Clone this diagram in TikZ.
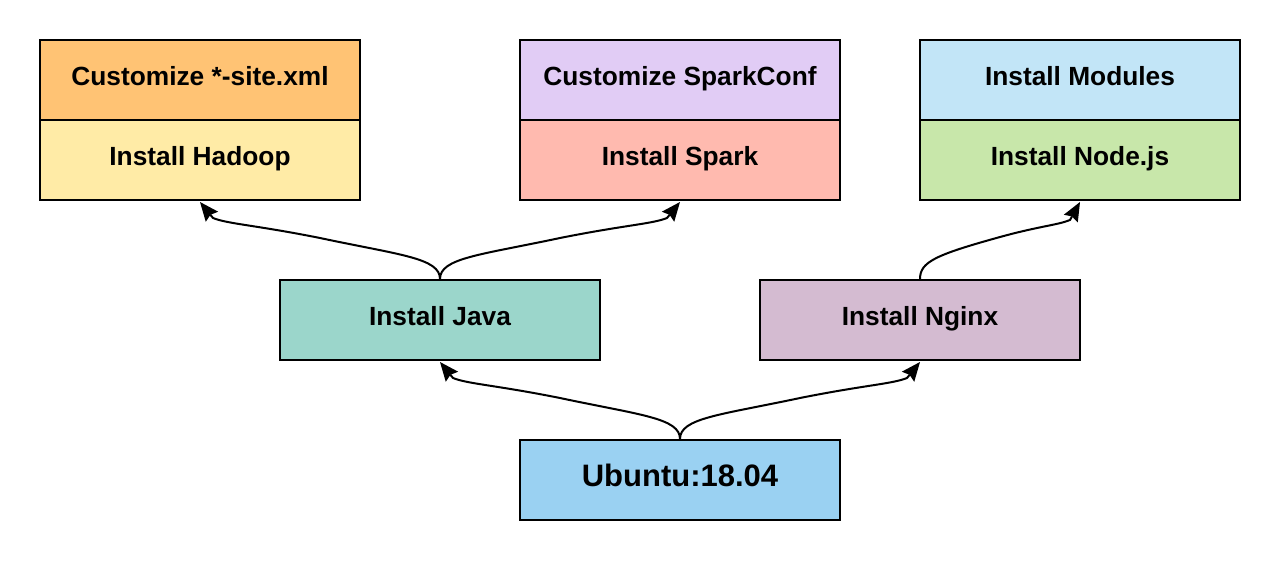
\documentclass[tikz,border=0pt]{standalone}
\usepackage{fontspec}
\setmainfont{Liberation Sans}
\usetikzlibrary{arrows.meta}
\definecolor{cHadoopCfg}{HTML}{FFC374}
\definecolor{cHadoop}{HTML}{FFEBA6}
\definecolor{cSparkCfg}{HTML}{E1CCF5}
\definecolor{cSpark}{HTML}{FFBAAF}
\definecolor{cModules}{HTML}{C2E5F7}
\definecolor{cNode}{HTML}{C8E7AA}
\definecolor{cJava}{HTML}{9BD6CB}
\definecolor{cNginx}{HTML}{D4BBD1}
\definecolor{cUbuntu}{HTML}{9AD1F2}
\tikzset{
  box/.style={draw=black, line width=2pt, minimum width=320pt, minimum height=80pt,
    inner sep=0pt, text height=18.7pt, text depth=7.7pt,
    font=\fontsize{26.3}{30}\selectfont\bfseries},
  bigbox/.style={box, text height=22.3pt, text depth=8.9pt,
    font=\fontsize{31}{36}\selectfont\bfseries},
  conn/.style={line width=2pt, line join=round, arrows={-Stealth[length=19pt,width=16pt,inset=2.5pt,line width=0pt]}}
}
\begin{document}
\begin{tikzpicture}[x=1pt,y=-1pt]
\useasboundingbox (0,0) rectangle (1280,560);
\node[box, fill=cHadoopCfg] (hadoopcfg) at (200,80) {Customize *-site.xml};
\node[box, fill=cHadoop] (hadoop) at (200,160) {Install Hadoop};
\node[box, fill=cSparkCfg] (sparkcfg) at (680,80) {Customize SparkConf};
\node[box, fill=cSpark] (spark) at (680,160) {Install Spark};
\node[box, fill=cModules] (modules) at (1080,80) {Install Modules};
\node[box, fill=cNode] (node) at (1080,160) {Install Node.js};
\node[box, fill=cJava] (java) at (440,320) {Install Java};
\node[box, fill=cNginx] (nginx) at (920,320) {Install Nginx};
\node[bigbox, fill=cUbuntu] (ubuntu) at (680,480) {Ubuntu:18.04};
\coordinate (m1) at (320,238);
\coordinate (m2) at (560,238);
\coordinate (m3) at (560,398);
\coordinate (m4) at (800,398);
\coordinate (m5) at (1000,237);
\coordinate (h1) at (213,218);
\coordinate (h2) at (667,218);
\coordinate (h3) at (453,378);
\coordinate (h4) at (907,378);
\coordinate (h5) at (1070,220);
\coordinate (t1) at (200,202);
\coordinate (t2) at (680,202);
\coordinate (t3) at (440,362);
\coordinate (t4) at (920,362);
\coordinate (t5) at (1080,202);
\draw[conn] (java.north) .. controls (440,258) and (400,255) .. (m1)
  .. controls (255,225) and (228,224) .. (h1) -- (t1);
\draw[conn] (java.north) .. controls (440,258) and (480,255) .. (m2)
  .. controls (625,225) and (652,224) .. (h2) -- (t2);
\draw[conn] (ubuntu.north) .. controls (680,418) and (640,415) .. (m3)
  .. controls (495,385) and (468,384) .. (h3) -- (t3);
\draw[conn] (ubuntu.north) .. controls (680,418) and (720,415) .. (m4)
  .. controls (865,385) and (892,384) .. (h4) -- (t4);
\draw[conn] (nginx.north) .. controls (920,262) and (935,255) .. (m5)
  .. controls (1040,226) and (1058,225) .. (h5) -- (t5);
\end{tikzpicture}
\end{document}
